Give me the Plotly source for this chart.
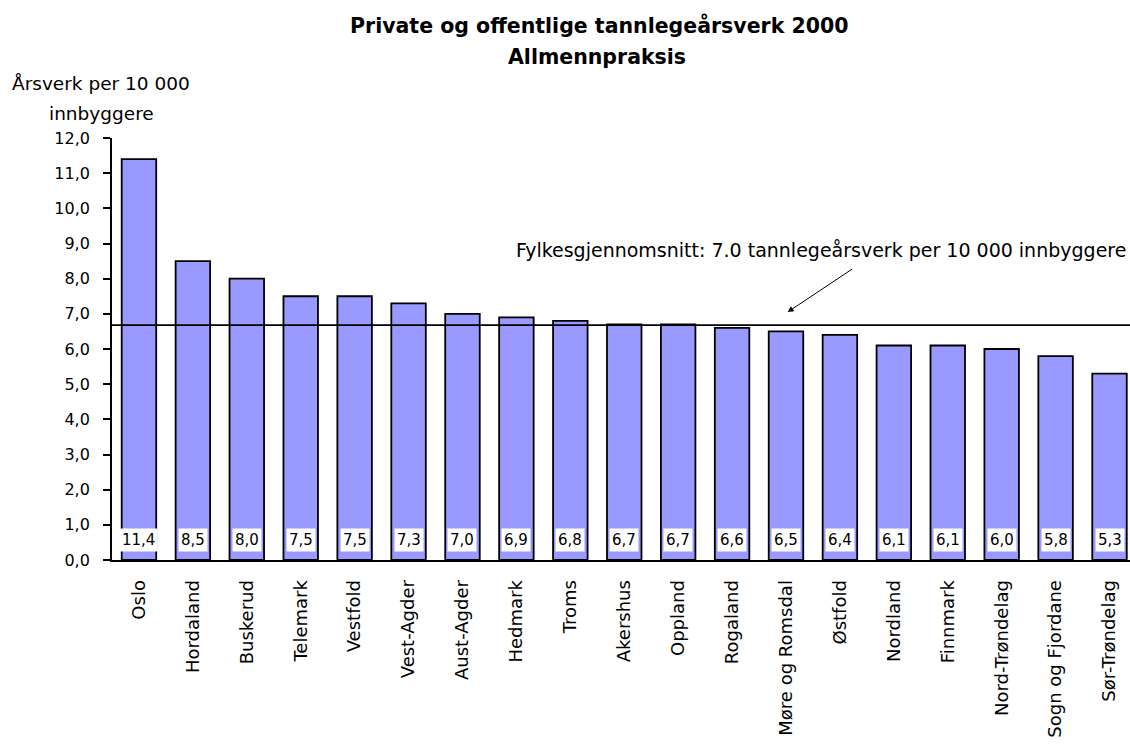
import plotly.graph_objects as go

# ---------------- data ----------------
counties = [
    "Oslo", "Hordaland", "Buskerud", "Telemark", "Vestfold", "Vest-Agder",
    "Aust-Agder", "Hedmark", "Troms", "Akershus", "Oppland", "Rogaland",
    "Møre og Romsdal", "Østfold", "Nordland", "Finnmark", "Nord-Trøndelag",
    "Sogn og Fjordane", "Sør-Trøndelag",
]
values = [11.4, 8.5, 8.0, 7.5, 7.5, 7.3, 7.0, 6.9, 6.8, 6.7, 6.7, 6.6,
          6.5, 6.4, 6.1, 6.1, 6.0, 5.8, 5.3]
average_line = 6.68          # drawn reference line (county average)
y_ticks = list(range(0, 13))
label_y = 0.58               # y level of the value labels inside the bars

title_lines = ["Private og offentlige tannlegeårsverk 2000", "Allmennpraksis"]
y_title_lines = ["Årsverk per 10 000", "innbyggere"]
avg_text = "Fylkesgjennomsnitt: 7.0 tannlegeårsverk per 10 000 innbyggere"
arrow_target = (12.03, 7.05)

# ---------------- figure ----------------
FONT = "DejaVu Sans"
W, H = 1130, 744
L, R, T, B = 112, 0, 138, 184
pw, ph = W - L - R, H - T - B

def px_x(p):
    return (p - L) / pw

def px_y(p):
    return (H - B - p) / ph

fig = go.Figure()
fig.add_trace(go.Bar(
    x=list(range(len(counties))),
    y=values,
    marker=dict(color="#9999FF", line=dict(color="black", width=1.8)),
    width=0.64,
    hoverinfo="x+y",
))

annotations = []
for i, v in enumerate(values):
    annotations.append(dict(
        x=i, y=label_y, xref="x", yref="y",
        text=f"{v:.1f}".replace(".", ","),
        showarrow=False, bgcolor="white", borderpad=2,
        font=dict(family=FONT, size=15, color="black"),
    ))

# title (two lines)
annotations.append(dict(x=px_x(599), y=px_y(25), xref="paper", yref="paper",
                        text=f"<b>{title_lines[0]}</b>", showarrow=False,
                        xanchor="center", yanchor="middle",
                        font=dict(family=FONT, size=20.5, color="black")))
annotations.append(dict(x=px_x(597), y=px_y(57), xref="paper", yref="paper",
                        text=f"<b>{title_lines[1]}</b>", showarrow=False,
                        xanchor="center", yanchor="middle",
                        font=dict(family=FONT, size=20.5, color="black")))
# y-axis title (two lines)
annotations.append(dict(x=px_x(101), y=px_y(83), xref="paper", yref="paper",
                        text=y_title_lines[0], showarrow=False,
                        xanchor="center", yanchor="middle",
                        font=dict(family=FONT, size=18.5, color="black")))
annotations.append(dict(x=px_x(101), y=px_y(113), xref="paper", yref="paper",
                        text=y_title_lines[1], showarrow=False,
                        xanchor="center", yanchor="middle",
                        font=dict(family=FONT, size=18.5, color="black")))
# average text
annotations.append(dict(x=px_x(1128), y=px_y(250), xref="paper", yref="paper",
                        text=avg_text, showarrow=False,
                        xanchor="right", yanchor="middle",
                        font=dict(family=FONT, size=19, color="black")))
# arrow
annotations.append(dict(x=arrow_target[0], y=arrow_target[1], xref="x", yref="y",
                        text="", showarrow=True, ax=66, ay=-44,
                        arrowhead=2, arrowsize=1.2, arrowwidth=1,
                        arrowcolor="black"))

fig.add_shape(type="line", xref="paper", yref="y", x0=0, x1=1,
              y0=average_line, y1=average_line,
              line=dict(color="black", width=1.6), layer="above")

fig.update_layout(
    width=W, height=H,
    margin=dict(l=L, r=R, t=T, b=B, pad=0, autoexpand=False),
    paper_bgcolor="white", plot_bgcolor="white",
    separators=", ",
    showlegend=False,
    bargap=0.36,
    font=dict(family=FONT, color="black"),
    annotations=annotations,
)
fig.update_xaxes(
    type="linear",
    range=[-0.5, 18.38],
    tickmode="array",
    tickvals=list(range(len(counties))),
    ticktext=counties,
    tickangle=-90,
    ticks="",
    showline=True, linecolor="black", linewidth=1.8,
    showgrid=False, zeroline=False,
    tickfont=dict(family=FONT, size=18, color="black"),
    ticklabelstandoff=11,
    automargin=False,
)
fig.update_yaxes(
    range=[0, 12],
    tickmode="array",
    tickvals=y_ticks,
    ticktext=[f"{t:.1f}".replace(".", ",") for t in y_ticks],
    ticks="outside", ticklen=7, tickwidth=1.6, tickcolor="black",
    showline=True, linecolor="black", linewidth=1.8,
    showgrid=False, zeroline=False,
    tickfont=dict(family=FONT, size=16, color="black"),
    ticklabelstandoff=10,
    automargin=False,
)

fig.write_html("out.html", config={"displayModeBar": False},
               post_script="document.body.style.margin='0';")
